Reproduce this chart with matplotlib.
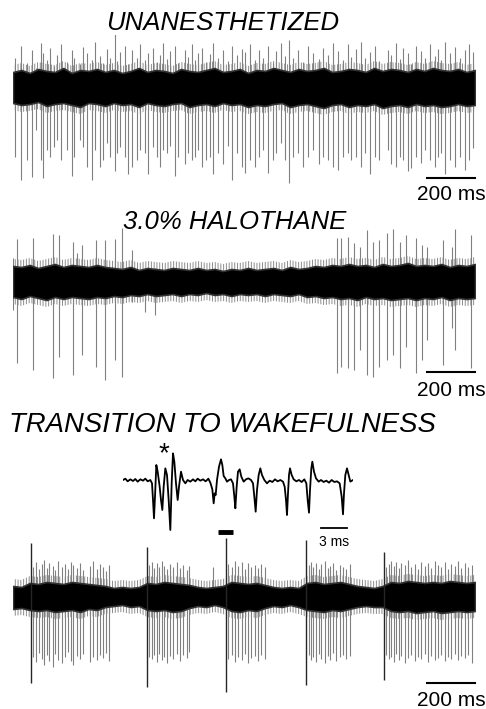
import numpy as np
import matplotlib
matplotlib.use("Agg")
import matplotlib.pyplot as plt

plt.rcParams['font.family'] = ['Liberation Sans', 'DejaVu Sans']
plt.rcParams['hatch.linewidth'] = 0.7

# ---- data (time in ms, amplitude in arbitrary units) ----
titles = ["UNANESTHETIZED", "3.0% HALOTHANE", "TRANSITION TO WAKEFULNESS"]
scale_ms = 200
trace_len_ms = 1925

# envelope sample times of the background noise band
env_t = [0, 35, 70, 105, 140, 175, 210, 245, 280, 315, 350, 385, 420, 455, 490, 525,
         560, 595, 630, 665, 700, 735, 770, 805, 840, 875, 910, 945, 980, 1015, 1050,
         1085, 1120, 1155, 1190, 1225, 1260, 1295, 1330, 1365, 1400, 1435, 1470, 1505,
         1540, 1575, 1610, 1645, 1680, 1715, 1750, 1785, 1820, 1855, 1890, 1925]

t1_top = [16, 18, 15, 19, 17, 16, 20, 15, 18, 17, 19, 16, 18, 15, 17, 20, 16, 18, 17, 15,
          19, 17, 16, 18, 20, 16, 17, 19, 15, 18, 17, 20, 18, 16, 19, 17, 18, 20, 16, 17,
          19, 18, 16, 20, 17, 19, 18, 16, 19, 17, 20, 18, 17, 19, 16, 18]
t1_bot = [15, 17, 16, 14, 18, 16, 15, 17, 19, 15, 16, 18, 15, 17, 16, 19, 15, 17, 18, 16,
          15, 19, 17, 16, 18, 15, 17, 16, 19, 17, 18, 16, 15, 19, 17, 16, 18, 20, 17, 16,
          19, 17, 18, 16, 20, 18, 17, 19, 16, 18, 17, 19, 18, 16, 18, 17]
t2_top = [16, 15, 17, 14, 16, 18, 15, 17, 16, 15, 17, 15, 14, 13, 15, 12, 14, 13, 12, 14,
          13, 12, 14, 12, 13, 11, 13, 12, 14, 12, 13, 14, 12, 15, 13, 14, 16, 15, 17, 16,
          18, 16, 17, 15, 18, 16, 17, 19, 16, 17, 16, 18, 15, 17, 16, 18]
t2_bot = [15, 17, 14, 16, 18, 15, 17, 15, 16, 17, 15, 16, 14, 15, 13, 14, 12, 14, 13, 12,
          14, 12, 13, 11, 13, 12, 14, 12, 13, 12, 14, 12, 13, 14, 12, 15, 14, 16, 15, 17,
          16, 18, 15, 17, 16, 18, 17, 16, 18, 16, 17, 15, 18, 16, 17, 16]
t3_top = [11, 10, 14, 13, 15, 14, 13, 15, 14, 13, 12, 11, 9, 10, 9, 10, 14, 13, 15, 14,
          13, 12, 10, 9, 10, 11, 15, 14, 13, 14, 12, 10, 9, 10, 9, 14, 15, 13, 14, 15,
          13, 11, 10, 9, 11, 15, 14, 16, 15, 14, 15, 14, 16, 15, 14, 15]
t3_bot = [12, 11, 13, 14, 13, 15, 14, 13, 15, 12, 13, 10, 9, 8, 10, 9, 13, 14, 13, 15,
          14, 11, 9, 10, 8, 10, 14, 15, 13, 14, 11, 9, 10, 8, 10, 13, 14, 15, 13, 14,
          12, 10, 9, 10, 10, 14, 15, 14, 16, 15, 14, 16, 15, 14, 15, 14]

# spikes: time, downward extent, upward extent
sp1_t = [8, 32, 57, 81, 96, 115, 126, 140, 154, 171, 182, 199, 224, 244, 254, 279, 293, 310,
         328, 342, 363, 376, 393, 404, 425, 435, 446, 467, 481, 494, 515, 529, 550, 564, 585,
         599, 613, 626, 640, 654, 675, 689, 717, 731, 745, 758, 772, 786, 804, 821, 835, 856,
         876, 897, 911, 932, 953,
         965, 986, 1007, 1025, 1041, 1062, 1083, 1097, 1118, 1132, 1152, 1166, 1187, 1208,
         1229, 1250, 1277, 1291, 1312, 1333, 1354, 1375, 1396, 1409, 1430, 1451, 1465, 1486,
         1507, 1527, 1562, 1576, 1597, 1611, 1625, 1646, 1660, 1680, 1701, 1715, 1736, 1757,
         1770, 1784, 1798, 1819, 1840, 1861, 1882, 1902, 1916]
sp1_down = [69, 92, 72, 89, 42, 72, 90, 62, 69, 59, 52, 72, 62, 88, 69, 52, 59, 79, 92, 62,
            79, 72, 55, 69, 83, 65, 59, 69, 86, 79, 72, 62, 65, 86, 59, 69, 79, 62, 65, 58,
            88, 69, 76, 65, 72, 69, 62, 79, 72, 69, 86, 65, 76, 58, 92, 65, 79,
            85, 72, 79, 69, 62, 85, 72, 65, 55, 72, 95, 69, 65, 79, 69, 62, 76, 69, 72, 79,
            82, 69, 65, 72, 69, 79, 65, 86, 69, 72, 62, 76, 79, 69, 72, 83, 80, 69, 75, 62,
            72, 79, 69, 65, 86, 72, 79, 69, 82, 72, 60]
sp1_up = [30, 42, 25, 38, 20, 45, 35, 28, 40, 22, 33, 44, 26, 38, 30, 24, 41, 35, 28, 46,
          32, 25, 39, 30, 55, 27, 36, 42, 24, 38, 30, 44, 28, 35, 40, 26, 33, 45, 29, 37,
          42, 25, 38, 31, 44, 28, 35, 40, 26, 34, 45, 30, 38, 27, 42, 33, 39,
          36, 44, 28, 38, 30, 42, 25, 37, 45, 32, 48, 30, 38, 26, 42, 35, 29, 40, 33, 45,
          37, 28, 44, 31, 39, 46, 30, 36, 42, 27, 38, 33, 45, 29, 40, 35, 24, 42, 37, 30,
          44, 32, 39, 28, 46, 35, 41, 30, 38, 44, 36]

sp2_t = [2, 18, 85, 165, 190, 251, 268, 286, 346, 383, 425, 456, 494, 550, 591,
         1350, 1368, 1396, 1421, 1444, 1475, 1502, 1527, 1558, 1583, 1611, 1639, 1680, 1704,
         1725, 1791, 1829, 1843, 1907]
sp2_down = [28, 81, 88, 96, 75, 93, 15, 73, 85, 98, 78, 95, 20, 30, 33,
            91, 85, 86, 88, 68, 93, 95, 85, 78, 73, 86, 65, 91, 78, 58, 83, 46, 68, 86]
sp2_up = [24, 43, 44, 48, 47, 40, 29, 37, 42, 42, 43, 54, 32, 12, 14,
          44, 44, 45, 39, 35, 52, 40, 42, 49, 53, 40, 47, 44, 37, 35, 42, 35, 53, 47]

sp3_t = [74, 85, 96, 110, 119, 129, 140, 151, 165, 175, 189, 203, 217, 230, 240, 251, 265,
         279, 293, 321, 335, 349, 363, 376, 387, 401,
         557, 568, 578, 588, 599, 610, 620, 629, 640, 654, 668, 682, 696, 710, 724, 735,
         835,
         886, 897, 911, 925, 939, 953, 965, 979, 993, 1007, 1021, 1034, 1048,
         1222, 1233, 1243, 1252, 1264, 1275, 1284, 1298, 1312, 1322, 1333, 1347, 1361, 1375,
         1389, 1405,
         1544, 1555, 1566, 1576, 1586, 1597, 1608, 1618, 1632, 1646, 1659, 1673, 1687, 1701,
         1715, 1729, 1743, 1757, 1771, 1784, 1798, 1812, 1826, 1840, 1854, 1868, 1882, 1896,
         1914]
sp3_down = [86, 60, 65, 56, 62, 68, 58, 64, 70, 57, 63, 66, 60, 55, 64, 68, 59, 62, 57, 65,
            60, 63, 58, 61, 56, 64,
            90, 60, 62, 58, 65, 57, 63, 60, 66, 59, 62, 57, 64, 58, 61, 55,
            5,
            95, 62, 58, 65, 60, 63, 57, 66, 61, 59, 64, 58, 62,
            88, 58, 63, 60, 65, 57, 62, 66, 59, 63, 56, 64, 60, 58, 62, 59,
            83, 58, 62, 60, 65, 57, 63, 59, 66, 61, 58, 64, 60, 62, 57, 65, 59, 63, 61, 58,
            64, 60, 62, 57, 63, 59, 61, 58, 66]
sp3_up = [54, 30, 35, 28, 33, 37, 29, 34, 31, 27, 36, 30, 33, 28, 35, 32, 29, 34, 27, 31,
          36, 28, 33, 30, 26, 32,
          50, 32, 35, 29, 34, 30, 36, 31, 28, 33, 30, 35, 29, 32, 27, 31,
          30,
          59, 33, 30, 36, 31, 35, 28, 34, 30, 32, 29, 33, 30,
          57, 32, 35, 30, 34, 28, 33, 36, 29, 31, 34, 27, 32, 30, 28, 33,
          45, 30, 33, 36, 31, 35, 29, 34, 32, 37, 30, 33, 28, 35, 31, 34, 29, 36, 32, 30,
          35, 28, 33, 31, 36, 29, 34, 30, 32]

# expanded segment (samples at 26 kHz, amplitude a.u.)
fs_khz = 26.0
ins_samp = [0, 7, 14, 22, 30, 37, 44, 52, 60, 67, 74, 82, 87, 90, 93, 96, 100, 104, 110, 114,
            118, 122, 127, 132, 137, 142, 146, 150, 154, 159, 164, 168, 174, 180, 187, 194,
            202, 210, 217, 224, 232, 240, 248, 256, 262, 268, 272, 275, 278, 282, 288, 294,
            298, 302, 307, 312, 318, 324, 330, 334, 337, 341, 345, 350, 355, 362, 369, 376,
            384, 390, 394, 398, 402, 407, 412, 417, 424, 432, 440, 448, 456, 464, 472, 480,
            485, 489, 492, 495, 498, 501, 506, 512, 520, 528, 536, 544, 550, 554, 558, 561,
            565, 568, 573, 579, 587, 594, 602, 610, 618, 626, 634, 642, 650, 656, 660, 663,
            667, 672, 677, 682, 690]
ins_amp = [0, 4, -4, 2, -3, 3, -5, 2, -2, 4, -4, 0, -10, -60, -115, -50, 45, 25, -20, -60,
           -90, -20, 35, 15, -60, -150, -10, 80, 55, -10, -60, -20, 25, 0, -10, 0,
           -5, 2, -4, 4, -2, 2, -4, 4, -8, -28, -70, -40, -45, 0, 40, 62,
           45, 12, 5, -5, 0, 2, -10, -50, -85, -20, 25, 32, 10, -5, 2, 5,
           0, -10, -50, -95, -30, 15, 35, 15, 0, -10, -2, -6, 2, -4, 0, -5,
           -20, -60, -105, -40, 15, 35, 15, 2, -4, 0, -6, 2, -10, -60, -98, -30,
           35, 55, 25, 5, -5, 0, -6, -2, -8, 0, -6, -4, -10, -50, -103, -40,
           15, 35, 15, -5, 0]
star_samp, star_amp = 122, 78
marker_ms = (854, 917)

# ---- layout ----
W, H = 486, 709
fig = plt.figure(figsize=(W / 100, H / 100), dpi=100)


def px_box(left, top, right, bottom):
    return [left / W, 1 - bottom / H, (right - left) / W, (bottom - top) / H]


def draw_trace(ax, top, bot, sp_t, sp_down, sp_up, ylim, bar_y, lab_y, dark=999):
    ax.set_xlim(0, trace_len_ms)
    ax.set_ylim(*ylim)
    ax.axis('off')
    up = np.array(top)
    lo = -np.array(bot)
    # fuzzy grey fringe around the noise band
    ax.fill_between(env_t, lo - 7, up + 7, facecolor='none', edgecolor='0.55',
                    hatch='||||||', linewidth=0, zorder=1)
    ax.fill_between(env_t, lo, up, color='black', edgecolor='0.2', linewidth=1.2, zorder=2)
    d = np.array(sp_down)
    u = np.array(sp_up)
    t = np.array(sp_t)
    light = d < dark
    ax.vlines(t[light], -d[light], u[light], color='0.5', linewidth=0.8, zorder=1)
    ax.vlines(t[~light], -d[~light], u[~light], color='0.15', linewidth=1.0, zorder=3)
    x0 = trace_len_ms - scale_ms
    ax.plot([x0, trace_len_ms], [bar_y, bar_y], color='black', lw=1.5, clip_on=False)
    ax.text(x0 + scale_ms / 2, lab_y, "200 ms", ha='center', va='center', fontsize=15)


ax1 = fig.add_axes(px_box(13, 35, 475, 195))
draw_trace(ax1, t1_top, t1_bot, sp1_t, sp1_down, sp1_up, (-107, 53), -90, -107)

ax2 = fig.add_axes(px_box(13, 225, 475, 395))
draw_trace(ax2, t2_top, t2_bot, sp2_t, sp2_down, sp2_up, (-113, 57), -90, -108)

ax3 = fig.add_axes(px_box(13, 530, 475, 709))
draw_trace(ax3, t3_top, t3_bot, sp3_t, sp3_down, sp3_up, (-112, 67), -86, -103, dark=80)
ax3.plot(marker_ms, [65, 65], color='black', lw=3.5, solid_capstyle='butt', clip_on=False)

# inset: expanded segment
axi = fig.add_axes(px_box(123, 435, 353, 550))
ins_t = np.array(ins_samp) / fs_khz
axi.plot(ins_t, ins_amp, color='black', lw=1.3)
axi.set_xlim(0, 690 / fs_khz)
axi.set_ylim(-210, 135)
axi.axis('off')
axi.text(star_samp / fs_khz, star_amp, "*", ha='center', va='center', fontsize=20)
axi.plot([22.8, 25.8], [-143, -143], color='black', lw=1.3, clip_on=False)
axi.text(24.3, -187, "3 ms", ha='center', va='center', fontsize=10)

# titles
for txt, (x, y), fs in zip(titles, [(223, 23), (235, 222), (222, 425)], [18.5, 18.5, 19.8]):
    fig.text(x / W, 1 - y / H, txt, ha='center', va='center', fontsize=fs, style='italic')

fig.savefig("out.png", dpi=100)
